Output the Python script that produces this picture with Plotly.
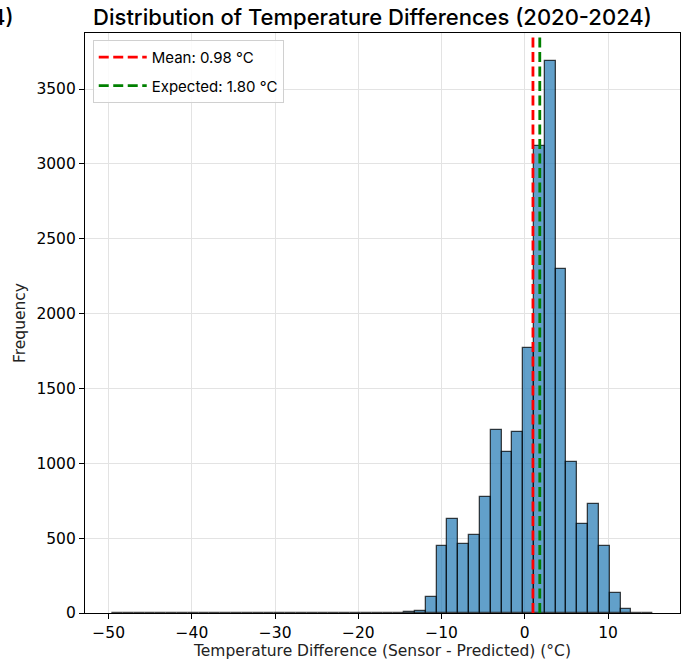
import numpy as np
import plotly.graph_objects as go

# Histogram data (50 equal-width bins between min and max of the data)
data_min = -49.6
data_max = 15.4
counts = [1, 0, 0, 0, 0, 0, 0, 0, 0, 0,
          0, 0, 0, 0, 0, 0, 0, 2, 0, 0,
          0, 0, 0, 0, 0, 0, 0, 4, 16, 110,
          445, 628, 461, 521, 778, 1223, 1078, 1208, 1770, 3122,
          3690, 2300, 1012, 597, 727, 445, 136, 29, 3, 1]
mean_val = 0.98
expected_val = 1.80

title_text = "Distribution of Temperature Differences (2020-2024)"
x_label = "Temperature Difference (Sensor - Predicted) (°C)"
y_label = "Frequency"
mean_label = f"Mean: {mean_val:.2f} °C"
expected_label = f"Expected: {expected_val:.2f} °C"

edges = np.linspace(data_min, data_max, len(counts) + 1)
centers = (edges[:-1] + edges[1:]) / 2
width = edges[1] - edges[0]

xpad = (data_max - data_min) * 0.05
ytop = max(counts) * 1.05

fig = go.Figure()
fig.add_trace(go.Bar(
    x=centers, y=counts, width=width,
    marker=dict(color="rgba(31,119,180,0.7)", line=dict(color="rgba(0,0,0,0.72)", width=1.3)),
    showlegend=False, hoverinfo="x+y",
))
fig.add_trace(go.Scatter(
    x=[mean_val, mean_val], y=[0, ytop], mode="lines", legendgroup="m",
    line=dict(color="red", width=2.8, dash="10px,4.5px"), name=mean_label,
))
fig.add_trace(go.Scatter(
    x=[expected_val, expected_val], y=[0, ytop], mode="lines", legendgroup="e",
    line=dict(color="green", width=2.8, dash="10px,4.5px"), name=expected_label,
))

tick_font = dict(family="DejaVu Sans", size=15.5, color="black")
label_font = dict(family="DejaVu Sans", size=15.5, color="#222")
title_font = dict(family="Inter", size=22, color="black", weight=500)
fig.update_layout(
    width=685, height=668,
    margin=dict(l=85, r=5, t=33, b=55),
    paper_bgcolor="white", plot_bgcolor="white",
    bargap=0,
    title=dict(text=title_text, x=372.5 / 685, xanchor="center",
               y=1 - 17 / 668, yanchor="middle", font=title_font),
    legend=dict(x=0.013, y=0.988, xanchor="left", yanchor="top",
                bgcolor="rgba(255,255,255,0.85)", bordercolor="#d0d0d0", borderwidth=1,
                font=dict(family="Inter", size=15, color="black"),
                tracegroupgap=6, itemwidth=48),
    showlegend=True,
)
fig.update_xaxes(
    range=[data_min - xpad, data_max + xpad],
    tickmode="array", tickvals=[-50, -40, -30, -20, -10, 0, 10],
    showgrid=True, gridcolor="#e3e3e3", gridwidth=1,
    showline=True, linecolor="black", linewidth=1.1, mirror=True,
    ticks="outside", ticklen=5, tickwidth=1.1, tickcolor="black", tickfont=tick_font,
    zeroline=False,
    title=dict(text=x_label, font=label_font, standoff=4),
)
fig.update_yaxes(
    range=[0, ytop],
    tickmode="array", tickvals=[0, 500, 1000, 1500, 2000, 2500, 3000, 3500],
    showgrid=True, gridcolor="#e3e3e3", gridwidth=1,
    showline=True, linecolor="black", linewidth=1.1, mirror=True,
    ticks="outside", ticklen=5, tickwidth=1.1, tickcolor="black", tickfont=tick_font,
    zeroline=False,
    title=dict(text=y_label, font=label_font, standoff=6),
)
fig.add_annotation(text="4)", xref="paper", yref="paper",
                   x=(16 - 85) / 595, y=1 - (17 - 33) / 580,
                   xanchor="right", yanchor="middle", showarrow=False,
                   font=title_font)

fig.write_html("out.html")
